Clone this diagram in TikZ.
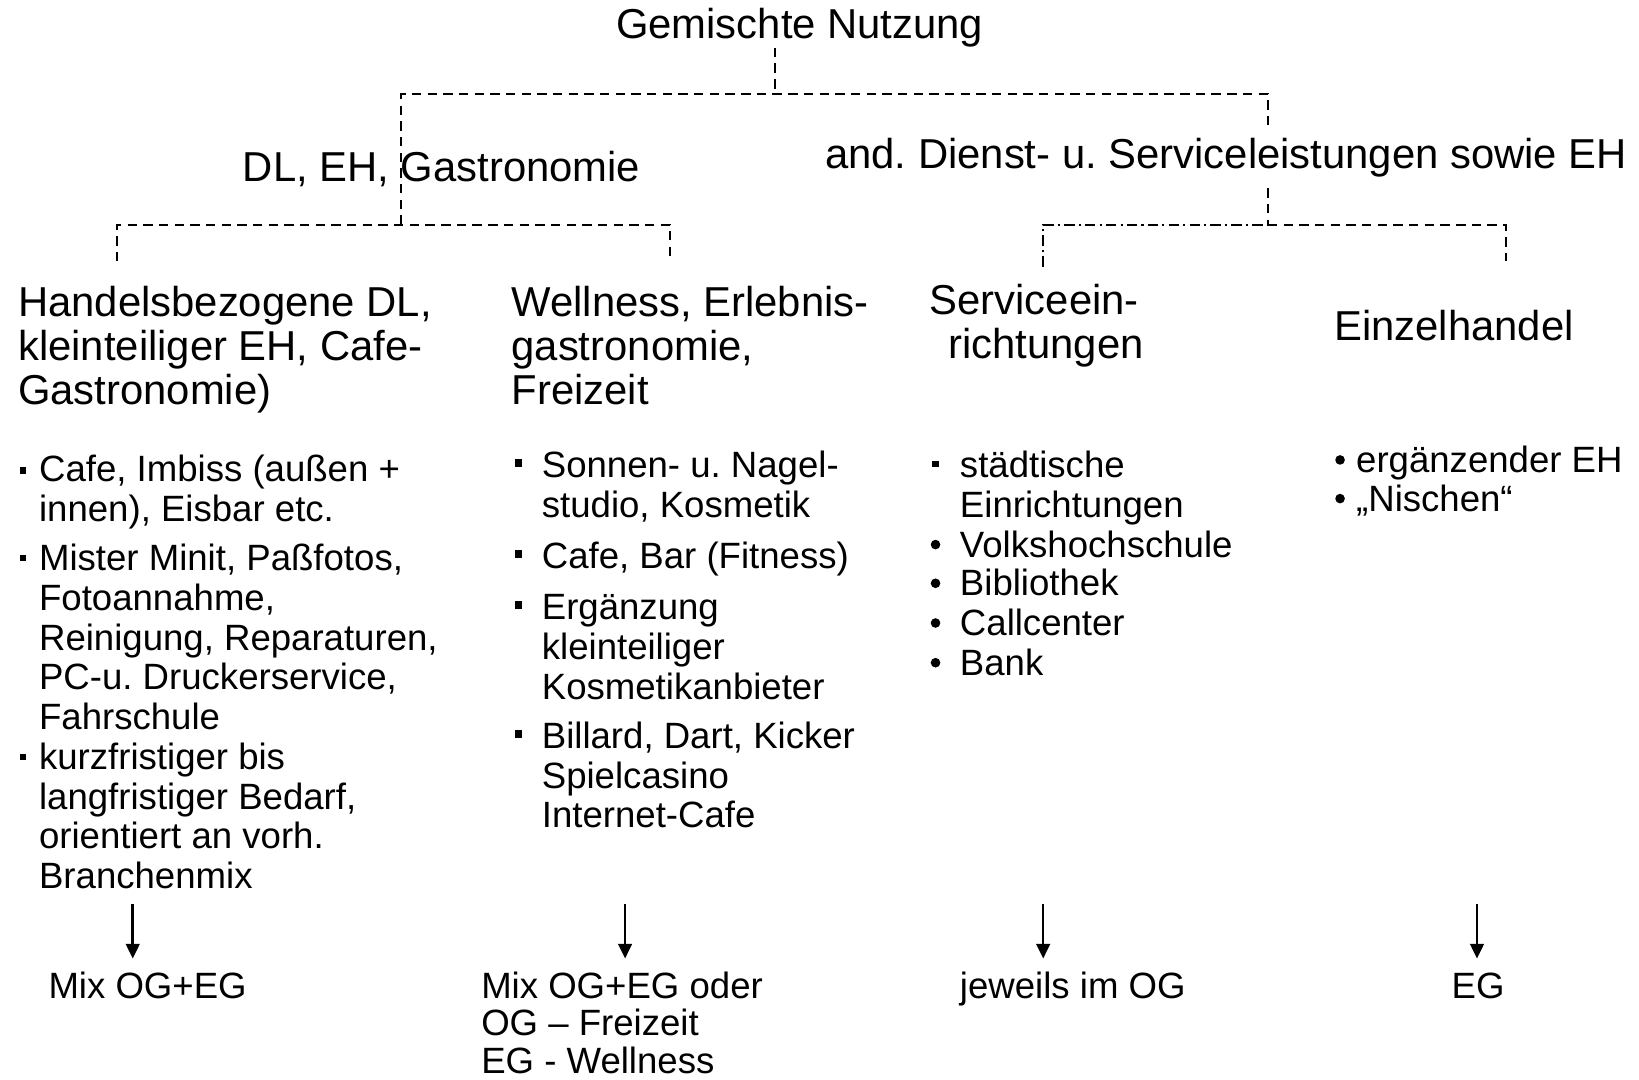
\documentclass[tikz,border=0pt]{standalone}
\usepackage{fontspec}
\setmainfont{Liberation Sans}
\usetikzlibrary{arrows.meta}
\frenchspacing
\newcommand\lns[1]{\begin{tabular}[t]{@{}l@{}}#1\end{tabular}}
\begin{document}
\begin{tikzpicture}[x=0.5pt,y=-0.5pt,
  hd/.style={inner sep=0pt, anchor=base west, font=\fontsize{20}{21}\selectfont},
  bl/.style={inner sep=0pt, anchor=base west, font=\fontsize{17.5}{19}\selectfont},
  dsh/.style={line width=0.9pt, dash pattern=on 4.5pt off 3pt},
  dshdot/.style={line width=0.9pt, dash pattern=on 5pt off 2pt on 1pt off 2pt},
  sq/.style={fill, rectangle, inner sep=0pt, minimum size=3pt},
  sqb/.style={fill, rectangle, inner sep=0pt, minimum size=3.6pt},
  dot/.style={fill, circle, inner sep=0pt, minimum size=4.6pt},
  arr/.style={line width=1.2pt, -{Triangle[length=7pt,width=6.5pt]}}]
\useasboundingbox (0,0) rectangle (1568,1033);

% headings
\node[hd, anchor=base] (root) at (765,37) {Gemischte Nutzung};
\node[hd] (l1a) at (232,174) {DL, EH, Gastronomie};
\node[hd] (l1b) at (789,161) {and. Dienst- u. Serviceleistungen sowie EH};
\node[hd] (h1) at (17,303) {\lns{Handelsbezogene DL,\\kleinteiliger EH, Cafe-\\Gastronomie)}};
\node[hd] (h2) at (489,303) {\lns{Wellness, Erlebnis-\\gastronomie,\\Freizeit}};
\node[hd] (h3) at (889,301) {\lns{Serviceein-\\\hspace{9pt}richtungen}};
\node[hd] (h4) at (1276,326) {Einzelhandel};

% tree connectors
\coordinate (j0) at (741,90);
\coordinate (jL) at (384,90);
\coordinate (jR) at (1213,90);
\coordinate (jRa) at (1213,124);
\coordinate (jRb) at (1213,180);
\coordinate (jL2) at (384,215);
\coordinate (jR2) at (1213,215);
\coordinate (c11) at (112,250);
\coordinate (c12) at (641,250);
\coordinate (c13) at (998,255);
\coordinate (c14) at (1441,250);
\draw[dsh] (j0 |- root.south) -- (j0);
\draw[dsh] (jL2) -- (jL) -- (jR) -- (jRa);
\draw[dsh] (jRb) -- (jR2);
\draw[dsh] (c11) -- (c11 |- jL2) -- (c12 |- jL2) -- (c12);
\draw[dshdot] (c13) -- (c13 |- jR2) -- (jR2);
\draw[dsh] (jR2) -- (c14 |- jR2) -- (c14);

% column 1
\node[sq] (b11) at (22,450) {};
\node[bl] (t11) at (37,461) {\lns{Cafe, Imbiss (außen +\\innen), Eisbar etc.}};
\node[sq] (b12) at (22,534) {};
\node[bl] (t12) at (37,546) {\lns{Mister Minit, Paßfotos,\\Fotoannahme,\\Reinigung, Reparaturen,\\PC-u. Druckerservice,\\Fahrschule}};
\node[sq] (b13) at (22,724) {};
\node[bl] (t13) at (37,736) {\lns{kurzfristiger bis\\langfristiger Bedarf,\\orientiert an vorh.\\Branchenmix}};

% column 2
\node[sqb] (b21) at (496,443) {};
\node[bl] (t21) at (518,457) {\lns{Sonnen- u. Nagel-\\studio, Kosmetik}};
\node[sqb] (b22) at (496,530) {};
\node[bl] (t22) at (518,544) {Cafe, Bar (Fitness)};
\node[sqb] (b23) at (496,579) {};
\node[bl] (t23) at (518,593) {\lns{Ergänzung\\kleinteiliger\\Kosmetikanbieter}};
\node[sqb] (b24) at (496,702) {};
\node[bl] (t24) at (518,716) {\lns{Billard, Dart, Kicker\\Spielcasino\\Internet-Cafe}};

% column 3
\node[sq] (b31) at (895,444) {};
\node[bl] (t31) at (918,457) {\lns{städtische\\Einrichtungen}};
\node[dot] (b32) at (895,521) {};
\node[bl] (t32) at (918,533) {Volkshochschule};
\node[dot] (b33) at (895,558) {};
\node[bl] (t33) at (918,570) {Bibliothek};
\node[dot] (b34) at (895,596) {};
\node[bl] (t34) at (918,608) {Callcenter};
\node[dot] (b35) at (895,634) {};
\node[bl] (t35) at (918,646) {Bank};

% column 4
\node[dot] (b41) at (1282,440) {};
\node[bl] (t41) at (1297,452) {ergänzender EH};
\node[dot] (b42) at (1282,477) {};
\node[bl] (t42) at (1297,489) {„Nischen“};

% results
\node[bl] (m1) at (46,955) {Mix OG+EG};
\node[bl, font=\fontsize{17.5}{17.5}\selectfont] (m2) at (460,955) {\lns{Mix OG+EG oder\\OG – Freizeit\\EG - Wellness}};
\node[bl] (m3) at (918,955) {jeweils im OG};
\node[bl, anchor=base] (m4) at (1414,955) {EG};

\coordinate (a1s) at (127,865); \coordinate (a1e) at (127,917);
\coordinate (a2s) at (598,865); \coordinate (a2e) at (598,917);
\coordinate (a3s) at (998,865); \coordinate (a3e) at (998,917);
\coordinate (a4s) at (1413,865); \coordinate (a4e) at (1413,917);
\draw[arr] (a1s) -- (a1e);
\draw[arr] (a2s) -- (a2e);
\draw[arr] (a3s) -- (a3e);
\draw[arr] (a4s) -- (a4e);
\end{tikzpicture}
\end{document}
